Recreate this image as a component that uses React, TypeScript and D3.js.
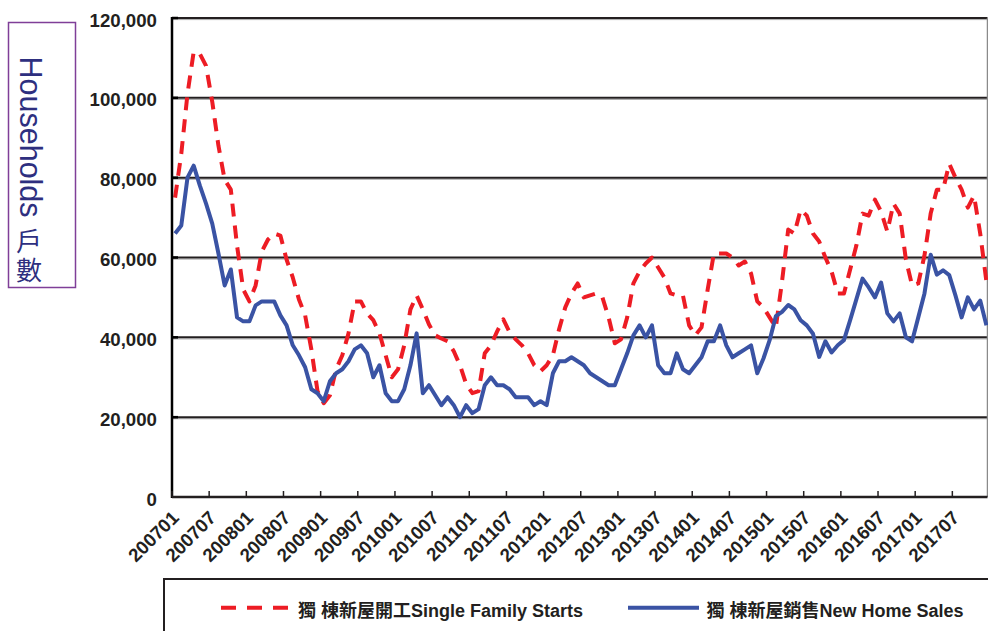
import React from 'react';
import * as d3 from 'd3';

// ---- data ----
const yearList = d3.range(2007, 2018);
const months: string[] = yearList.flatMap((yr) => d3.range(1, 13).map((m) => `${yr}${m < 10 ? '0' + m : m}`));

const tickLabels = [
  '200701', '200707', '200801', '200807', '200901', '200907', '201001', '201007',
  '201101', '201107', '201201', '201207', '201301', '201307', '201401', '201407',
  '201501', '201507', '201601', '201607', '201701', '201707',
];

const yTicks = [0, 20000, 40000, 60000, 80000, 100000, 120000];

// 獨棟新屋開工 Single Family Starts (households)
const starts = [
  75000, 86000, 101000, 111500, 111000, 108000, 99000, 88000, 79500, 77000, 63000, 52000,
  49000, 53000, 61500, 64500, 66000, 65500, 59500, 55000, 49500, 45500, 37000, 26500,
  23500, 25500, 32000, 35500, 41000, 49000, 49000, 46000, 44300, 41000, 35500, 30000,
  32000, 38000, 47000, 50500, 47000, 43200, 40500, 39700, 39000, 36500, 33000, 28300,
  26000, 26500, 36000, 38000, 41500, 44500, 41300, 39500, 38000, 36000, 33000, 31500,
  33000, 35500, 42000, 47500, 51000, 53500, 50000, 50500, 51000, 50000, 45000, 38500,
  39500, 45000, 53500, 56500, 58500, 60000, 57500, 55000, 51000, 50500, 50500, 43000,
  40500, 42500, 52000, 61000, 61000, 61000, 60000, 58000, 59000, 56000, 49000, 47500,
  45000, 42500, 54000, 67000, 66000, 72000, 70500, 66000, 64000, 60000, 56500, 51000,
  51000, 57000, 63000, 71000, 70500, 74500, 71500, 66500, 73500, 71000, 59500, 53000,
  53500, 60500, 71000, 77000, 77000, 83500, 80000, 77000, 72500, 75500, 66000, 54000,
];

// 獨棟新屋銷售 New Home Sales (households)
const sales = [
  66000, 68000, 80000, 83000, 78000, 73500, 68500, 61000, 53000, 57000, 45000, 44000,
  44000, 48000, 49000, 49000, 49000, 45500, 43000, 38000, 35500, 32500, 27000, 26000,
  24000, 29000, 31000, 32000, 34000, 37000, 38000, 36000, 30000, 33000, 26000, 24000,
  24000, 27000, 33000, 41000, 26000, 28000, 25500, 23000, 25000, 23000, 20000, 23000,
  21000, 22000, 28000, 30000, 28000, 28000, 27000, 25000, 25000, 25000, 23000, 24000,
  23000, 31000, 34000, 34000, 35000, 34000, 33000, 31000, 30000, 29000, 28000, 28000,
  32000, 36000, 40500, 43000, 40000, 43000, 33000, 31000, 31000, 36000, 32000, 31000,
  33000, 35000, 39000, 39000, 43000, 38000, 35000, 36000, 37000, 38000, 31000, 34700,
  39300, 45300, 46400, 48100, 47000, 44300, 43000, 40900, 35100, 39000, 36200, 38000,
  39300, 44300, 49500, 54700, 52500, 50000, 53700, 46000, 44000, 46000, 40000, 39000,
  45000, 51000, 60700, 55700, 56800, 55600, 50500, 45000, 50000, 47000, 49200, 43000,
];

const seriesNames = ['獨 棟新屋開工Single Family Starts', '獨 棟新屋銷售New Home Sales'];
const axisTitle = 'Households';
const axisTitleCJK = '戶數';

const RED = '#ED1C24';
const BLUE = '#3A53A4';
const LATIN = '"Liberation Sans", Arial, "Noto Sans CJK TC", sans-serif';

export default function App() {
  const left = 172;
  const top = 18;
  const bottom = 497;
  const right = 987.5;

  const x = d3.scaleBand<string>().domain(months).range([left, 989.5]).padding(0);
  const cx = (m: string) => (x(m) as number) + x.bandwidth() / 2;
  const y = d3.scaleLinear().domain([0, 120000]).range([bottom, top]);

  const line = d3
    .line<number>()
    .x((_, i) => cx(months[i]))
    .y((d) => y(d));

  const fmt = d3.format(',');

  return (
    <svg
      width={988}
      height={631}
      style={{ position: 'absolute', left: 0, top: 0, display: 'block', background: '#fff' }}
    >
      {/* gridlines */}
      {yTicks.filter((t) => t > 0).map((t) => (
        <g key={t}>
          <line x1={left} x2={right} y1={y(t) + 1.6} y2={y(t) + 1.6} stroke="#a8a8a8" strokeWidth={1} />
          <line x1={left} x2={right} y1={y(t)} y2={y(t)} stroke="#231F20" strokeWidth={2} />
          <line x1={left} x2={left + 6} y1={y(t)} y2={y(t)} stroke="#000" strokeWidth={2.5} />
        </g>
      ))}
      {/* right border */}
      <line x1={right} x2={right} y1={top} y2={bottom} stroke="#8a8a8a" strokeWidth={1.5} />

      {/* y labels */}
      {yTicks.map((t) => (
        <text
          key={t}
          x={157}
          y={y(t) + 8.5}
          textAnchor="end"
          fontFamily={LATIN}
          fontWeight="bold"
          fontSize={18.67}
          fill="#231F20"
        >
          {fmt(t)}
        </text>
      ))}

      {/* series */}
      <path d={line(starts) || ''} fill="none" stroke={RED} strokeWidth={4} strokeDasharray="13,9" strokeLinejoin="round" />
      <path d={line(sales) || ''} fill="none" stroke={BLUE} strokeWidth={4} strokeLinejoin="round" />

      {/* axes */}
      <line x1={left} x2={left} y1={top - 1} y2={bottom + 1} stroke="#000" strokeWidth={2.5} />
      <line x1={left} x2={right} y1={bottom} y2={bottom} stroke="#231F20" strokeWidth={2.5} />
      {tickLabels.map((lab) => {
        const tx = x(lab) as number;
        return (
          <g key={lab}>
            <line x1={tx} x2={tx} y1={bottom} y2={bottom - 6} stroke="#231F20" strokeWidth={1.5} />
            <text
              transform={`translate(${tx + 8},${bottom + 22}) rotate(-45)`}
              textAnchor="end"
              fontFamily={LATIN}
              fontWeight="bold"
              fontSize={18.67}
              fill="#231F20"
            >
              {lab}
            </text>
          </g>
        );
      })}

      {/* y-axis title box */}
      <rect x={8.5} y={22.5} width={67} height={265} fill="none" stroke="#7F3F98" strokeWidth={1.5} />
      <text
        transform="translate(20,56.5) rotate(90)"
        fontFamily={LATIN}
        fontSize={30.5}
        fill="#2E2F7F"
      >
        {axisTitle}
      </text>
      <text
        x={29}
        y={228}
        fontFamily='"Noto Sans CJK TC", sans-serif'
        fontSize={26}
        letterSpacing={3}
        fill="#2E2F7F"
        style={{ writingMode: 'vertical-rl' }}
      >
        {axisTitleCJK}
      </text>

      {/* legend */}
      <rect x={164} y={579} width={840} height={70} fill="none" stroke="#231F20" strokeWidth={2} />
      <line x1={221} x2={292} y1={607.7} y2={607.7} stroke={RED} strokeWidth={4} strokeDasharray="15,11" />
      <text x={298} y={616.5} fontFamily={LATIN} fontWeight="bold" fontSize={18} fill="#231F20">
        {seriesNames[0]}
      </text>
      <line x1={628} x2={699} y1={607.7} y2={607.7} stroke={BLUE} strokeWidth={4} />
      <text x={706.5} y={616.5} fontFamily={LATIN} fontWeight="bold" fontSize={18} fill="#231F20">
        {seriesNames[1]}
      </text>
    </svg>
  );
}
